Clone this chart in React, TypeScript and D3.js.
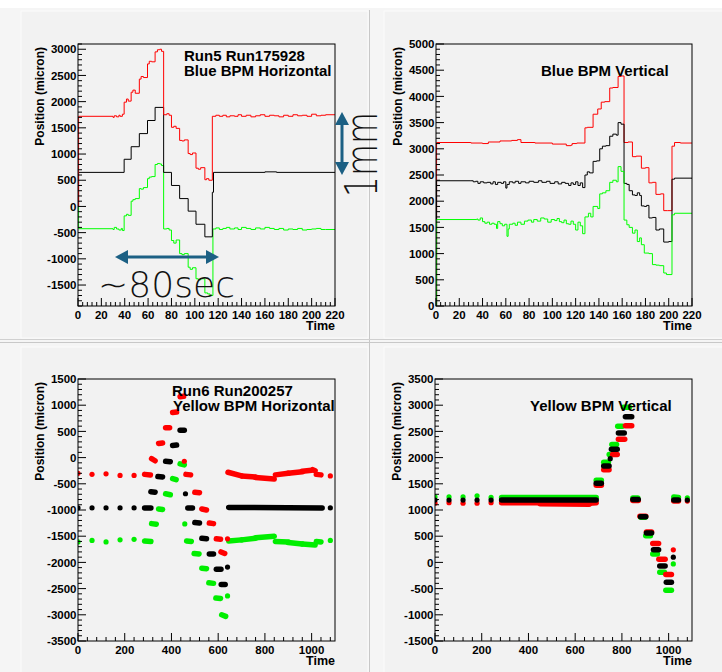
import React from 'react'
import * as d3 from 'd3'

// ---- top row: step histograms, [time, position] ----
const blueHRed = [[0,0],[0.5,1720],[30,1700],[31,1730],[33,1710],[35,1740],[36,1720],[38,1760],[39.5,1990],[41.5,2050],[43,2010],[45.5,2180],[47,2220],[49,2160],[52.5,2430],[54,2480],[56,2460],[59.5,2720],[61,2770],[63,2760],[66,2950],[68,2990],[70,3000],[71.5,2960],[73.3,1750],[76,1770],[78,1740],[80,1510],[82,1530],[84,1490],[87,1260],[89,1250],[91,1270],[94.3,1010],[96,990],[98,1020],[101,730],[103,710],[105,740],[108.6,510],[110,530],[112,500],[115,1720],[118,1740],[121,1720],[124,1740],[127,1710],[130,1730],[134,1720],[137,1750],[140,1720],[144,1740],[148,1710],[152,1730],[156,1750],[160,1720],[164,1740],[168,1730],[172,1710],[176,1740],[180,1720],[184,1750],[188,1730],[192,1740],[196,1720],[200,1760],[204,1730],[208,1740],[212,1750],[220,1750]]
const blueHBlack = [[0,0],[0.5,650],[39.5,900],[45.5,1140],[52.5,1390],[59.5,1640],[66,1890],[73.3,650],[80,400],[87,150],[94.3,-90],[101,-340],[108.6,-580],[115,270],[116,650],[160,660],[170,650],[220,650]]
const blueHGreen = [[0,0],[0.5,-425],[30,-440],[31,-400],[33,-430],[35,-450],[37,-420],[38,-460],[39.5,-180],[41.5,-150],[43,-170],[45.5,100],[47,130],[49,150],[52.5,340],[54,330],[56,360],[59.5,530],[61,560],[63,570],[66,800],[68,820],[70,810],[71.5,780],[73.3,-430],[76,-420],[78,-450],[80,-650],[82,-700],[84,-640],[87,-900],[89,-920],[91,-900],[94.3,-1160],[96,-1200],[98,-1170],[101,-1380],[103,-1400],[105,-1380],[108.6,-1650],[111,-1670],[113,-1700],[115.5,-430],[118,-410],[121,-440],[124,-420],[127,-400],[130,-430],[134,-410],[137,-440],[140,-400],[144,-420],[148,-440],[152,-410],[156,-430],[160,-400],[164,-420],[168,-440],[172,-420],[176,-450],[180,-430],[184,-440],[188,-420],[192,-450],[196,-440],[200,-430],[204,-420],[208,-440],[212,-440],[220,-440]]

const blueVRed = [[0,0],[0.5,3120],[30,3110],[40,3100],[45,3130],[55,3150],[65,3160],[70,3175],[73,3120],[85,3110],[100,3090],[112,3060],[116,3070],[117,3100],[121,3110],[128,3400],[130,3410],[135,3660],[139,3760],[142,3890],[145,3900],[149.3,4160],[152,4170],[156.5,4380],[159,4390],[161.6,3120],[165,3130],[168.8,2850],[172,2860],[176.5,2630],[180,2640],[183,2350],[186,2360],[189,2130],[193,2140],[195.7,1820],[199,1820],[202.8,3050],[205,3120],[210,3110],[220,3110]]
const blueVBlack = [[0,0],[0.5,2390],[30,2390],[32,2370],[34,2380],[36,2340],[38,2370],[41,2350],[44,2360],[47,2330],[49,2370],[51,2320],[53,2360],[56,2340],[58,2370],[60,2250],[61,2320],[63,2370],[66,2350],[68,2380],[71,2340],[73,2370],[77,2350],[80,2380],[84,2360],[88,2390],[91,2360],[95,2380],[98,2340],[102,2370],[105,2330],[108,2360],[111,2340],[114,2300],[116,2350],[118,2320],[120,2370],[122,2300],[124,2350],[126,2260],[128,2500],[130,2560],[132,2540],[135,2760],[138,2770],[140.7,3000],[143,3050],[146,3060],[149.3,3240],[152,3280],[155,3260],[156.5,3500],[159,3470],[161.6,2340],[164,2320],[166,2200],[168.8,2120],[171,2110],[173,2160],[175,2110],[176.5,1910],[179,1900],[181,1920],[183,1680],[186,1690],[189,1450],[192,1470],[195.7,1220],[200,1230],[202.8,2420],[205,2440],[220,2430]]
const blueVGreen = [[0,0],[0.5,1650],[35,1660],[36,1640],[38,1680],[40,1610],[42,1580],[44,1600],[46,1560],[48,1580],[50,1560],[52,1480],[53,1610],[55,1570],[57,1530],[59,1560],[61,1330],[62,1470],[63,1560],[66,1580],[68,1540],[70,1600],[73,1560],[76,1620],[79,1640],[82,1600],[84,1650],[87,1620],[90,1680],[93,1660],[96,1600],[99,1650],[102,1630],[104,1670],[106,1610],[108,1590],[110,1640],[112,1570],[114,1560],[116,1620],[118,1560],[120,1450],[122,1600],[124,1530],[126,1380],[128,1700],[131,1770],[133,1700],[135,1900],[139,1860],[140.7,2140],[143,2160],[146,2200],[149.3,2360],[152,2400],[155,2370],[156.5,2660],[159,2570],[161.6,1640],[164,1550],[166,1500],[168.8,1390],[171,1450],[173,1230],[175,1300],[176.5,1170],[179,1010],[183,1000],[186,790],[189,780],[192,770],[195.7,630],[198,600],[202.8,1740],[205,1770],[220,1760]]

// ---- bottom row: point clusters, [t0, t1, v0, v1] ----
const yellowHRed = [[0,0,-300,-300],[60,60,-320,-320],[120,120,-310,-310],[180,180,-340,-340],[240,240,-340,-340],[285,310,-320,-330],[315,330,-20,-60],[345,362,270,280],[375,392,570,570],[405,422,860,870],[437,452,1160,1170],[455,455,-70,-70],[462,482,-320,-330],[500,520,-660,-670],[530,550,-980,-1000],[562,580,-1250,-1260],[592,610,-1550,-1560],[612,628,-1800,-1830],[640,640,-1550,-1550],[642,700,-280,-350],[700,760,-350,-370],[760,840,-380,-410],[845,900,-330,-300],[900,960,-300,-270],[960,1000,-260,-240],[1005,1015,-230,-250],[1020,1040,-320,-330],[1080,1080,-350,-350]]
const yellowHBlack = [[0,0,-960,-960],[60,60,-960,-960],[120,120,-960,-960],[180,180,-960,-960],[240,240,-960,-960],[285,312,-960,-960],[312,330,-650,-660],[342,362,-360,-370],[375,395,-70,-80],[405,422,230,240],[437,455,520,520],[460,460,-690,-690],[470,490,-960,-960],[500,520,-1240,-1250],[530,550,-1540,-1550],[562,580,-1840,-1840],[592,612,-2130,-2130],[613,630,-2420,-2420],[640,640,-2090,-2090],[645,1045,-950,-960],[1080,1080,-960,-960]]
const yellowHGreen = [[0,0,-1610,-1610],[60,60,-1580,-1580],[120,120,-1610,-1610],[180,180,-1570,-1570],[240,240,-1560,-1560],[285,312,-1590,-1600],[315,335,-1260,-1270],[345,362,-980,-990],[375,395,-690,-710],[405,420,-400,-420],[437,455,-120,-140],[457,457,-1265,-1265],[465,485,-1590,-1600],[497,518,-1830,-1840],[530,550,-2110,-2120],[560,580,-2390,-2400],[590,610,-2680,-2690],[615,632,-3000,-3030],[640,640,-2640,-2640],[645,700,-1590,-1570],[700,760,-1570,-1540],[760,840,-1530,-1500],[845,900,-1600,-1610],[900,960,-1620,-1650],[960,1015,-1650,-1670],[1020,1040,-1600,-1610],[1080,1080,-1580,-1580]]

const yellowVRed = [[0,0,1130,1130],[60,60,1140,1140],[120,120,1130,1130],[180,180,1130,1130],[240,240,1140,1140],[285,450,1140,1140],[450,660,1120,1110],[660,690,1130,1140],[690,712,1470,1470],[722,745,1770,1770],[760,780,2060,2060],[785,812,2350,2350],[815,842,2610,2610],[847,870,1180,1180],[877,902,880,880],[905,927,580,580],[932,957,360,360],[958,985,60,60],[988,1012,-230,-230],[1020,1020,240,240],[1022,1042,1170,1170],[1080,1080,1170,1170]]
const yellowVBlack = [[0,0,1190,1190],[60,60,1190,1190],[120,120,1190,1190],[180,180,1190,1190],[240,240,1190,1190],[285,690,1190,1190],[690,712,1510,1510],[722,745,1840,1840],[750,750,1980,1980],[755,780,2160,2160],[785,810,2470,2470],[815,842,2780,2780],[847,870,1200,1200],[880,902,870,870],[905,927,560,560],[935,957,240,240],[962,985,-70,-70],[990,1012,-380,-380],[1020,1020,100,100],[1022,1042,1190,1190],[1080,1080,1190,1190]]
const yellowVGreen = [[0,0,1250,1250],[60,60,1250,1250],[120,120,1250,1250],[180,180,1270,1270],[240,240,1240,1240],[285,690,1240,1240],[690,712,1570,1570],[722,742,1910,1910],[745,745,2060,2060],[757,777,2250,2250],[782,802,2600,2600],[807,832,2960,2960],[847,868,1230,1230],[880,900,860,860],[902,922,510,510],[932,952,160,160],[962,982,-190,-190],[988,1012,-530,-530],[1020,1020,-30,-30],[1022,1042,1250,1240],[1080,1080,1230,1230]]

const FONT = "'Liberation Sans', Arial, Helvetica, sans-serif"
const THIN = "'DejaVu Sans', 'Noto Sans', sans-serif"
const ANNOT = '#1c6084'

const Panel = ({ f, xd, yd, xMaj, xMin, yMaj, yMin, id, children }) => {
  const x = d3.scaleLinear().domain(xd).range([f.x0, f.x1])
  const y = d3.scaleLinear().domain(yd).range([f.y1, f.y0])
  const eps = 1e-6
  const xTicks = d3.range(Math.ceil(xd[0] / xMin) * xMin, xd[1] + eps, xMin)
  const yTicks = d3.range(Math.ceil(yd[0] / yMin) * yMin, yd[1] + eps, yMin)
  const isMaj = (v, m) => Math.abs(v / m - Math.round(v / m)) < 1e-6
  return (
    <g>
      <clipPath id={id}>
        <rect x={f.x0} y={f.y0} width={f.x1 - f.x0} height={f.y1 - f.y0} />
      </clipPath>
      <g clipPath={`url(#${id})`}>{children(x, y)}</g>
      {xTicks.map((v) => (
        <line key={'xt' + v} x1={x(v)} x2={x(v)} y1={f.y1} y2={f.y1 - (isMaj(v, xMaj) ? 8 : 4)} stroke="#000" />
      ))}
      {yTicks.map((v) => (
        <line key={'yt' + v} y1={y(v)} y2={y(v)} x1={f.x0} x2={f.x0 + (isMaj(v, yMaj) ? 8 : 4)} stroke="#000" />
      ))}
      <rect x={f.x0} y={f.y0} width={f.x1 - f.x0} height={f.y1 - f.y0} fill="none" stroke="#000" />
      <g fontFamily={FONT} fontWeight="bold" fontSize={11.5} fill="#000">
        {xTicks.filter((v) => isMaj(v, xMaj)).map((v) => (
          <text key={'xl' + v} x={x(v)} y={f.y1 + 12.5} textAnchor="middle">{v}</text>
        ))}
        {yTicks.filter((v) => isMaj(v, yMaj)).map((v) => (
          <text key={'yl' + v} x={f.x0 - 1.5} y={y(v)} dy="0.36em" textAnchor="end">{v}</text>
        ))}
        <text x={f.x1} y={f.y1 + 24} textAnchor="end" fontSize={12.5}>Time</text>
        <text transform={`translate(${f.x0 - 34},${f.y0 + 3}) rotate(-90)`} textAnchor="end" fontSize={12}>Position (micron)</text>
      </g>
    </g>
  )
}

const Steps = ({ data, x, y, color }) => {
  const line = d3.line().x((d) => x(d[0])).y((d) => y(d[1])).curve(d3.curveStepAfter)
  return <path d={line(data)} fill="none" stroke={color} strokeWidth={1} />
}

const Dots = ({ data, x, y, color }) => (
  <g>
    {data.map((d, i) =>
      d[0] === d[1] ? (
        <circle key={i} cx={x(d[0])} cy={y(d[2])} r={2.6} fill={color} />
      ) : (
        <line key={i} x1={x(d[0])} x2={x(d[1])} y1={y(d[2])} y2={y(d[3])} stroke={color} strokeWidth={5.5} strokeLinecap="round" />
      )
    )}
  </g>
)

const Arrow = ({ x1, y1, x2, y2 }) => {
  const ang = Math.atan2(y2 - y1, x2 - x1)
  const len = Math.hypot(x2 - x1, y2 - y1)
  const hl = 13
  const hw = 7
  return (
    <g transform={`translate(${x1},${y1}) rotate(${(ang * 180) / Math.PI})`} fill={ANNOT}>
      <rect x={hl - 1} y={-1.5} width={len - 2 * hl + 2} height={3} />
      <polygon points={`0,0 ${hl},${-hw} ${hl},${hw}`} />
      <polygon points={`${len},0 ${len - hl},${-hw} ${len - hl},${hw}`} />
    </g>
  )
}

export default function App() {
  const tl = { x0: 78, y0: 44, x1: 335, y1: 306 }
  const tr = { x0: 436, y0: 44, x1: 692, y1: 306 }
  const bl = { x0: 78, y0: 379, x1: 335, y1: 641 }
  const br = { x0: 435, y0: 379, x1: 692, y1: 641 }
  const padFill = '#f2f2f2'
  return (
    <svg width={722} height={672} style={{ position: 'absolute', left: 0, top: 0 }}>
      <rect width={722} height={672} fill="#f5f5f5" />
      <rect width={722} height={8} fill="#ffffff" />
      <rect x={21} y={11} width={347} height={327} fill={padFill} stroke="#fbfbfb" />
      <rect x={384} y={11} width={340} height={327} fill={padFill} stroke="#fbfbfb" />
      <rect x={21} y={347} width={347} height={330} fill={padFill} stroke="#fbfbfb" />
      <rect x={384} y={347} width={340} height={330} fill={padFill} stroke="#fbfbfb" />
      <line x1={369.5} x2={369.5} y1={10} y2={672} stroke="#c8c8c8" />
      <line x1={0} x2={722} y1={339.5} y2={339.5} stroke="#d0d0d0" />
      <line x1={0} x2={722} y1={342.5} y2={342.5} stroke="#c8c8c8" />

      <Panel f={tl} xd={[0, 220]} yd={[-1900, 3100]} xMaj={20} xMin={4} yMaj={500} yMin={100} id="c1">
        {(x, y) => (
          <g>
            <Steps data={blueHGreen} x={x} y={y} color="#00ff00" />
            <Steps data={blueHBlack} x={x} y={y} color="#000000" />
            <Steps data={blueHRed} x={x} y={y} color="#ff0000" />
          </g>
        )}
      </Panel>
      <Panel f={tr} xd={[0, 220]} yd={[0, 5000]} xMaj={20} xMin={4} yMaj={500} yMin={100} id="c2">
        {(x, y) => (
          <g>
            <Steps data={blueVRed} x={x} y={y} color="#ff0000" />
            <Steps data={blueVBlack} x={x} y={y} color="#000000" />
            <Steps data={blueVGreen} x={x} y={y} color="#00ff00" />
          </g>
        )}
      </Panel>
      <Panel f={bl} xd={[0, 1100]} yd={[-3500, 1500]} xMaj={200} xMin={40} yMaj={500} yMin={100} id="c3">
        {(x, y) => (
          <g>
            <Dots data={yellowHGreen} x={x} y={y} color="#00ee00" />
            <Dots data={yellowHRed} x={x} y={y} color="#ff0000" />
            <Dots data={yellowHBlack} x={x} y={y} color="#000000" />
          </g>
        )}
      </Panel>
      <Panel f={br} xd={[0, 1100]} yd={[-1500, 3500]} xMaj={200} xMin={40} yMaj={500} yMin={100} id="c4">
        {(x, y) => (
          <g>
            <Dots data={yellowVGreen} x={x} y={y} color="#00ee00" />
            <Dots data={yellowVRed} x={x} y={y} color="#ff0000" />
            <Dots data={yellowVBlack} x={x} y={y} color="#000000" />
          </g>
        )}
      </Panel>

      <g fontFamily={FONT} fontWeight="bold" fontSize={15} fill="#000">
        <text x={184} y={61}>Run5 Run175928</text>
        <text x={184} y={76}>Blue BPM Horizontal</text>
        <text x={541} y={76}>Blue BPM Vertical</text>
        <text x={172} y={396}>Run6 Run200257</text>
        <text x={173} y={411}>Yellow BPM Horizontal</text>
        <text x={530} y={411}>Yellow BPM Vertical</text>
      </g>

      <Arrow x1={115} y1={257} x2={219} y2={257} />
      <Arrow x1={342} y1={112} x2={342} y2={175} />
      <g fontFamily={THIN} fontWeight={200} fill="#111">
        <text x={98} y={297} fontSize={36} textLength={137} lengthAdjust="spacingAndGlyphs">~80sec</text>
        <text transform="translate(377,197) rotate(-90)" fontSize={44} textLength={85} lengthAdjust="spacingAndGlyphs">1mm</text>
      </g>
    </svg>
  )
}
